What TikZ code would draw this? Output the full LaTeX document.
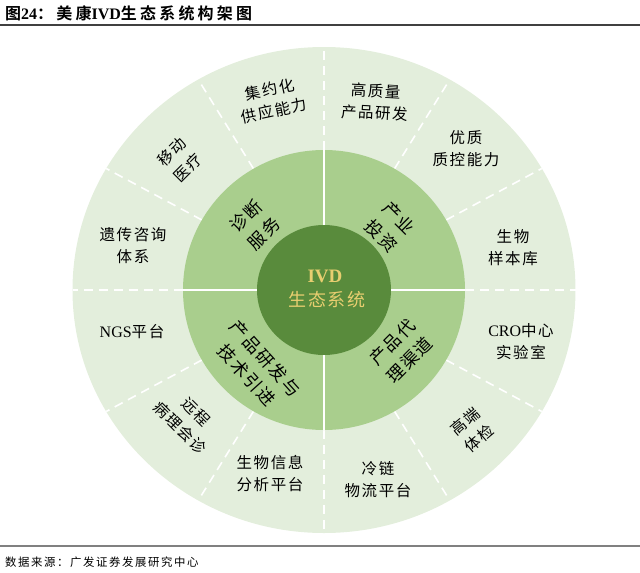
\documentclass[tikz,border=0pt]{standalone}
\usepackage{fontspec}
\setmainfont{Liberation Serif}
\newfontfamily\cjk{Noto Sans CJK SC}[LetterSpace=10,BoldFont={Noto Sans CJK SC Bold}]
\newfontfamily\cjkt{Noto Sans CJK SC}[LetterSpace=20,BoldFont={Noto Sans CJK SC Bold}]
\newfontfamily\cjkf{Noto Sans CJK SC}[LetterSpace=14]
\definecolor{outerg}{RGB}{227,238,220}
\definecolor{midg}{RGB}{169,206,141}
\definecolor{innerg}{RGB}{89,139,60}
\definecolor{goldt}{RGB}{232,206,112}
\tikzset{
  divdash/.style={white, line width=1.6pt, dash pattern=on 9pt off 6pt},
  divsolid/.style={white, line width=2.2pt},
  outerlbl/.style={font=\cjk\fontsize{15.5}{22}\selectfont, align=center, inner sep=0pt, text=black},
  midlbl/.style={font=\cjk\fontsize{17.5}{25}\selectfont, align=center, inner sep=0pt, text=black},
  corelbl/.style={font=\cjk\fontsize{18}{24}\selectfont, align=center, inner sep=0pt, text=goldt},
}
\begin{document}
\begin{tikzpicture}[x=1pt,y=-1pt]
\useasboundingbox (0,0) rectangle (640,573);
% title and rules
\node[anchor=west, inner sep=0pt, font=\fontsize{16}{18}\selectfont] (title) at (5,13)
  {{\cjkt\bfseries 图}{\bfseries 24}{\cjkt\bfseries ：美康}{\bfseries IVD}{\cjkt\bfseries 生态系统构架图}};
\draw[line width=1.5pt, black!75] (0,25) -- (640,25);
\draw[line width=1.5pt, black!50] (0,546) -- (640,546);
\node[anchor=west, inner sep=0pt, font=\cjkf\fontsize{11.4}{14}\selectfont] (src) at (5,562) {数据来源：广发证券发展研究中心};
% rings
\coordinate (c) at (324,290);
\begin{scope}[shift={(324,290)}]
  \fill[outerg] (0,0) ellipse [x radius=251.5, y radius=243];
  \foreach \a in {0,30,...,330}
    \draw[divdash] (\a:141 and 140) -- (\a:251.5 and 243);
  \fill[midg] (0,0) ellipse [x radius=141, y radius=140];
  \draw[divsolid] (-141,0) -- (141,0);
  \draw[divsolid] (0,-140) -- (0,140);
  \fill[innerg] (0,0) ellipse [x radius=67, y radius=65];
\end{scope}
% core
\node[font=\bfseries\fontsize{19}{22}\selectfont, text=goldt, inner sep=0pt] (ivd) at (325,276) {IVD};
\node[corelbl] (eco) at (327,300) {生态系统};
% middle ring
\node[midlbl, rotate=45] (m1) at (255,225) {诊断\\服务};
\node[midlbl, rotate=-45] (m2) at (390,227) {产业\\投资};
\node[midlbl, rotate=-48] (m3) at (256,367) {产品研发与\\技术引进};
\node[midlbl, rotate=45] (m4) at (401,351) {产品代\\理渠道};
% outer ring
\node[outerlbl, rotate=12] (o1) at (272,100) {集约化\\供应能力};
\node[outerlbl, rotate=-3] (o2) at (375,102) {高质量\\产品研发};
\node[outerlbl] (o3) at (466,149) {优质\\质控能力};
\node[outerlbl] (o4) at (513,248) {生物\\样本库};
\node[outerlbl] (o5) at (521,342) {{\rmfamily\fontsize{16}{22}\selectfont CRO}中心\\实验室};
\node[outerlbl, rotate=40] (o6) at (472,430) {高端\\体检};
\node[outerlbl] (o7) at (378,480) {冷链\\物流平台};
\node[outerlbl] (o8) at (270,474) {生物信息\\分析平台};
\node[outerlbl, rotate=-45] (o9) at (188,420) {远程\\病理会诊};
\node[outerlbl] (o10) at (132,332) {{\rmfamily\fontsize{16}{22}\selectfont NGS}平台};
\node[outerlbl] (o11) at (133,246) {遗传咨询\\体系};
\node[outerlbl, rotate=45] (o12) at (180,160) {移动\\医疗};
\end{tikzpicture}
\end{document}
